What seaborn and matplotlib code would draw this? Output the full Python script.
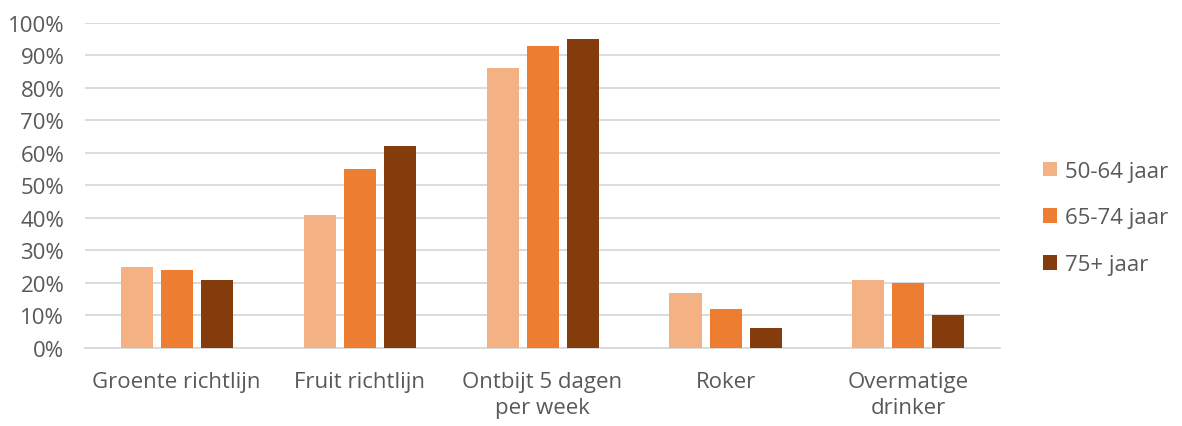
import matplotlib
matplotlib.use("Agg")
import matplotlib.pyplot as plt
import seaborn as sns
import pandas as pd

categories = ["Groente richtlijn", "Fruit richtlijn", "Ontbijt 5 dagen\nper week", "Roker", "Overmatige\ndrinker"]
groups = ["50-64 jaar", "65-74 jaar", "75+ jaar"]
values_50_64 = [25, 41, 86, 17, 21]
values_65_74 = [24, 55, 93, 12, 20]
values_75_plus = [21, 62, 95, 6, 10]
colors = ["#F4B183", "#ED7D31", "#843C0C"]

rows = []
for grp, vals in zip(groups, [values_50_64, values_65_74, values_75_plus]):
    for cat, v in zip(categories, vals):
        rows.append({"Categorie": cat, "Groep": grp, "Waarde": v / 100})
df = pd.DataFrame(rows)

sns.set_style("white")
plt.rcParams["font.family"] = ["Open Sans", "DejaVu Sans"]
text_color = "#595959"
fs = 16

fig = plt.figure(figsize=(11.82, 4.27), dpi=100)
ax = fig.add_axes([0.072, 0.183, 0.774, 0.761])

sns.barplot(data=df, x="Categorie", y="Waarde", hue="Groep", palette=colors,
            width=0.656, gap=0.2, saturation=1, linewidth=0, ax=ax, zorder=3)

ax.set_ylim(0, 1)
ax.set_xlim(-0.5, len(categories) - 0.5)
ax.set_yticks([i / 10 for i in range(11)])
ax.set_yticklabels([f"{i * 10}%" for i in range(11)])
ax.yaxis.grid(True, color="#D9D9D9", linewidth=1.3, zorder=0)
ax.set_axisbelow(True)
for side in ["top", "right", "left"]:
    ax.spines[side].set_visible(False)
ax.spines["bottom"].set_color("#D9D9D9")
ax.spines["bottom"].set_linewidth(1.3)
ax.tick_params(axis="both", length=0, labelsize=fs, colors=text_color)
ax.tick_params(axis="x", pad=17)
ax.tick_params(axis="y", pad=15)
for lbl in ax.get_xticklabels():
    lbl.set_linespacing(1.3)
ax.set_xlabel("")
ax.set_ylabel("")

handles, labels = ax.get_legend_handles_labels()
ax.legend(handles, labels, loc="center left", bbox_to_anchor=(1.025, 0.4), frameon=False,
          fontsize=fs, labelcolor=text_color, handlelength=0.65, handleheight=0.65,
          handletextpad=0.35, labelspacing=1.15)

fig.savefig("out.png", dpi=100)
